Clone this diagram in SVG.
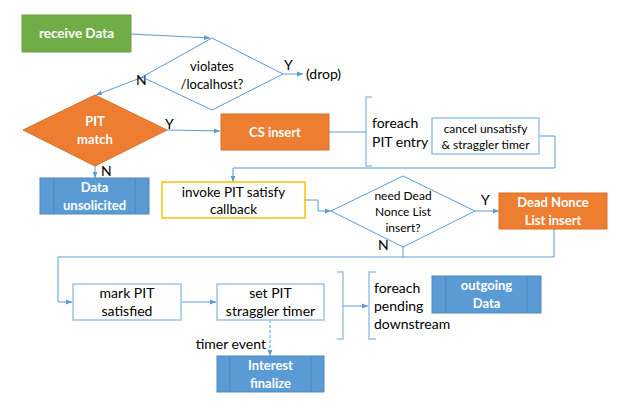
<svg xmlns="http://www.w3.org/2000/svg" width="639" height="409" viewBox="0 0 639 409">
<defs>
<marker id="ah" viewBox="0 0 10 10" refX="10" refY="5" markerWidth="6" markerHeight="6" orient="auto" markerUnits="userSpaceOnUse"><path d="M0,1 L10,5 L0,9 z" fill="#5B9BD5"/></marker>
<style>
text{font-family:Lato,"Open Sans","Liberation Sans",sans-serif;font-size:14px;fill:#000}
.w{fill:#fff;font-weight:bold;font-size:13px}
.c{text-anchor:middle}
.s{font-size:12px}
.m{font-size:13px}
.ln{fill:none;stroke:#5B9BD5;stroke-width:1}
.lt{fill:none;stroke:#9DC3E6;stroke-width:1.5}
.g{fill:#70AD47;stroke:#6A9E45}
.o{fill:#ED7D31;stroke:#D96F28}
.b{fill:#5B9BD5;stroke:#4E89BE}
.bi{stroke:#4E89BE;stroke-width:1.2}
.wb{fill:#fff;stroke:#9DC3E6;stroke-width:1.5}
.y{fill:#fff;stroke:#FFC000;stroke-width:1.5}
</style>
</defs>
<g id="connectors">
<path class="ln" d="M131,34 L210,38" marker-end="url(#ah)"/>
<path class="ln" d="M143,77 L96,95" marker-end="url(#ah)"/>
<path class="ln" d="M283,74 L303,74" marker-end="url(#ah)"/>
<path class="ln" d="M167,130 L220,131" marker-end="url(#ah)"/>
<path class="ln" d="M95,166 L95,178" marker-end="url(#ah)"/>
<path class="ln" d="M329,132 L366,132"/>
<path class="lt" d="M372,97 L366,97 L366,166 L372,166"/>
<path class="ln" d="M539,136 L555,136 L555,168 L233,168 L233,182" marker-end="url(#ah)"/>
<path class="ln" d="M305,200 L318,200 L318,211 L331,211" marker-end="url(#ah)"/>
<path class="ln" d="M475,211 L499,211" marker-end="url(#ah)"/>
<path class="ln" d="M554,229 L554,257 L58,257 L58,302 L72,302" marker-end="url(#ah)"/>
<path class="ln" d="M403,247 L403,257"/>
<path class="ln" d="M181,302 L216,302" marker-end="url(#ah)"/>
<path class="ln" d="M270,320 L270,356" stroke-dasharray="3,2" marker-end="url(#ah)"/>
<path class="lt" d="M337,272 L343,272 L343,339 L337,339"/>
<path class="ln" d="M343,306 L368,306" marker-end="url(#ah)"/>
<path class="lt" d="M376,272 L369,272 L369,339 L376,339"/>
<text x="284" y="70">Y</text>
<text x="306" y="79">(drop)</text>
<text x="136" y="85">N</text>
<text x="165" y="129">Y</text>
<text x="101" y="176">N</text>
<text x="481" y="205">Y</text>
<text x="378" y="250">N</text>
<text x="266" y="349" text-anchor="end">timer event</text>
</g>
<g id="receive-data">
<rect class="g" x="22" y="15" width="109" height="37"/>
<text class="w c" x="76.5" y="38" style="font-size:13.5px">receive Data</text>
</g>
<g id="violates">
<path class="ln" d="M212,38 L283,74 L212,110 L142,77 z"/>
<text class="c m" x="212" y="71">violates</text>
<text class="c m" x="212" y="89">/localhost?</text>
</g>
<g id="pit-match">
<path class="o" d="M95,95 L167,130 L95,166 L23,130 z"/>
<text class="w c" x="95" y="126">PIT</text>
<text class="w c" x="95" y="144">match</text>
</g>
<g id="data-unsolicited">
<rect class="b" x="40" y="178" width="109" height="36"/>
<path class="bi" d="M54,178 V214 M135,178 V214"/>
<text class="w c" x="94.5" y="192">Data</text>
<text class="w c" x="94.5" y="210">unsolicited</text>
</g>
<g id="cs-insert">
<rect class="o" x="221" y="114" width="108" height="36"/>
<text class="w c" x="275" y="137">CS insert</text>
</g>
<g id="foreach-pit">
<text x="372" y="128">foreach</text>
<text x="372" y="147">PIT entry</text>
</g>
<g id="cancel">
<rect class="wb" x="432" y="118" width="107" height="36"/>
<text class="c s" x="485.5" y="133">cancel unsatisfy</text>
<text class="c s" x="485.5" y="149">&amp; straggler timer</text>
</g>
<g id="invoke">
<rect class="y" x="162" y="182" width="143" height="36"/>
<text class="c" x="233.5" y="197" style="font-size:13.5px">invoke PIT satisfy</text>
<text class="c" x="233.5" y="214" style="font-size:13.5px">callback</text>
</g>
<g id="need-dnl">
<path class="ln" d="M331,211 L403,176 L475,211 L403,247 z"/>
<text class="c s" x="403" y="200">need Dead</text>
<text class="c s" x="403" y="216">Nonce List</text>
<text class="c s" x="403" y="232">insert?</text>
</g>
<g id="dnl-insert">
<rect class="o" x="499" y="193" width="108" height="36"/>
<text class="w c" x="553" y="207">Dead Nonce</text>
<text class="w c" x="553" y="225">List insert</text>
</g>
<g id="mark-pit">
<rect class="wb" x="73" y="284" width="108" height="36"/>
<text class="c" x="127" y="298">mark PIT</text>
<text class="c" x="127" y="316">satisfied</text>
</g>
<g id="set-pit">
<rect class="wb" x="217" y="284" width="107" height="36"/>
<text class="c" x="270.5" y="298">set PIT</text>
<text class="c" x="270.5" y="316">straggler timer</text>
</g>
<g id="interest-finalize">
<rect class="b" x="217" y="356" width="107" height="36"/>
<path class="bi" d="M230,356 V392 M311,356 V392"/>
<text class="w c" x="270.5" y="370">Interest</text>
<text class="w c" x="270.5" y="388">finalize</text>
</g>
<g id="foreach-pending">
<text x="374" y="293">foreach</text>
<text x="374" y="311">pending</text>
<text x="374" y="329">downstream</text>
</g>
<g id="outgoing-data">
<rect class="b" x="432" y="276" width="109" height="37"/>
<path class="bi" d="M446,276 V313 M527,276 V313"/>
<text class="w c" x="486.5" y="290">outgoing</text>
<text class="w c" x="486.5" y="308">Data</text>
</g>
</svg>
